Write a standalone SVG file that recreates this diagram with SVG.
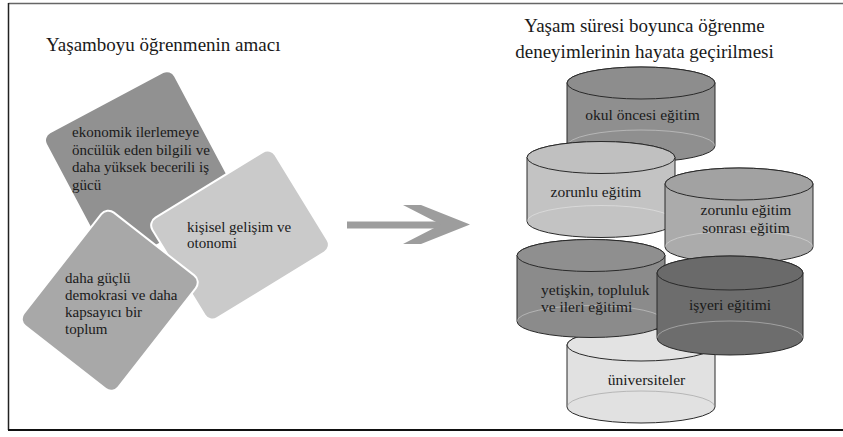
<svg xmlns="http://www.w3.org/2000/svg" width="843" height="437" viewBox="0 0 843 437">
<style>
text{font-family:"Liberation Serif","DejaVu Serif",serif;fill:#1a1a1a}
.title{font-size:19px}
.ct{font-size:15px}
.yt{font-size:15.5px}
.card{stroke:#fff;stroke-width:2}
.body{stroke:#2a2a2a;stroke-width:1}
.top{stroke:#2a2a2a;stroke-width:1}
.back{fill:none;stroke:#fff;stroke-opacity:.35;stroke-width:1}
</style>
<rect width="843" height="437" fill="#fff"/>
<g id="frame" fill="none">
<path d="M8.5,3.5 H843" stroke="#666" stroke-width="1.5"/>
<path d="M8.5,3 V430" stroke="#222" stroke-width="1.5"/>
<path d="M8,430 H843" stroke="#111" stroke-width="2"/>
</g>
<text class="title" x="46" y="51">Yaşamboyu öğrenmenin amacı</text>
<text class="title" text-anchor="middle"><tspan x="644.5" y="32">Yaşam süresi boyunca öğrenme</tspan><tspan x="644.5" y="58">deneyimlerinin hayata geçirilmesi</tspan></text>

<g id="card-ekonomik">
<rect class="card" x="68.5" y="93.5" width="146" height="150" rx="9" fill="#919191" transform="rotate(-28 141.5 168.5)"/>
<text class="ct" x="72"><tspan x="72" y="137">ekonomik ilerlemeye</tspan><tspan x="72" y="154.7">öncülük eden bilgili ve</tspan><tspan x="72" y="172.4">daha yüksek becerili iş</tspan><tspan x="72" y="190">gücü</tspan></text>
</g>
<g id="card-kisisel">
<rect class="card" x="168" y="176" width="144" height="118" rx="9" fill="#cacaca" transform="rotate(-31.5 240 235)"/>
<text class="ct"><tspan x="187" y="231.5">kişisel gelişim ve</tspan><tspan x="187" y="248">otonomi</tspan></text>
</g>
<g id="card-demokrasi">
<rect class="card" x="49.75" y="228.75" width="120" height="144" rx="9" fill="#a8a8a8" transform="rotate(38 109.75 300.75)"/>
<text class="ct"><tspan x="65" y="283">daha güçlü</tspan><tspan x="65" y="300">demokrasi ve daha</tspan><tspan x="65" y="317">kapsayıcı bir</tspan><tspan x="65" y="333.5">toplum</tspan></text>
</g>

<g id="connectors">
<rect x="347" y="221.5" width="95" height="7" fill="#9d9d9d"/>
<path d="M403,205 L421,205 L470,224.5 L421,244 L403,244 L441,224.5 Z" fill="#9d9d9d"/>
</g>

<g id="cyl-okul">
<path class="body" fill="#8f8f8f" d="M567,83 V146 A74,16 0 0 0 715,146 V83 A74,16 0 0 0 567,83 Z"/>
<path class="back" d="M567,146 A74,16 0 0 1 715,146"/>
<ellipse class="top" cx="641" cy="83" rx="74" ry="16" fill="#8d8d8d"/>
<text class="yt" x="642.5" y="120" text-anchor="middle">okul öncesi eğitim</text>
</g>
<g id="cyl-zorunlu">
<path class="body" fill="#c3c3c3" d="M527,157.5 V221.5 A74,16 0 0 0 675,221.5 V157.5 A74,16 0 0 0 527,157.5 Z"/>
<path class="back" d="M527,221.5 A74,16 0 0 1 675,221.5"/>
<ellipse class="top" cx="601" cy="157.5" rx="74" ry="16" fill="#c0c0c0"/>
<text class="yt" x="596" y="196.7" text-anchor="middle">zorunlu eğitim</text>
</g>
<g id="cyl-sonrasi">
<path class="body" fill="#ababab" d="M665,184 V247 A74,16 0 0 0 813,247 V184 A74,16 0 0 0 665,184 Z"/>
<path class="back" d="M665,247 A74,16 0 0 1 813,247"/>
<ellipse class="top" cx="739" cy="184" rx="74" ry="16" fill="#a2a2a2"/>
<text class="yt" text-anchor="middle"><tspan x="746" y="215">zorunlu eğitim</tspan><tspan x="746" y="233">sonrası eğitim</tspan></text>
</g>
<g id="cyl-universiteler">
<path class="body" fill="#e1e1e1" d="M567,345 V407 A74,16 0 0 0 715,407 V345 A74,16 0 0 0 567,345 Z"/>
<path class="back" d="M567,407 A74,16 0 0 1 715,407" style="stroke:#999;stroke-opacity:.6"/>
<ellipse class="top" cx="641" cy="345" rx="74" ry="16" fill="#e3e3e3"/>
<text class="yt" x="646.5" y="385" text-anchor="middle">üniversiteler</text>
</g>
<g id="cyl-yetiskin">
<path class="body" fill="#8b8b8b" d="M517,255.5 V321.5 A74,16 0 0 0 665,321.5 V255.5 A74,16 0 0 0 517,255.5 Z"/>
<path class="back" d="M517,321.5 A74,16 0 0 1 665,321.5"/>
<ellipse class="top" cx="591" cy="255.5" rx="74" ry="16" fill="#8f8f8f"/>
<text class="yt"><tspan x="541" y="295">yetişkin, topluluk</tspan><tspan x="541" y="311.7">ve ileri eğitimi</tspan></text>
</g>
<g id="cyl-isyeri">
<path class="body" fill="#6d6d6d" d="M657,273 V338 A73,17 0 0 0 803,338 V273 A73,17 0 0 0 657,273 Z"/>
<path class="back" d="M657,338 A73,17 0 0 1 803,338"/>
<ellipse class="top" cx="730" cy="273" rx="73" ry="17" fill="#6a6a6a"/>
<text class="yt" x="730" y="310" text-anchor="middle">işyeri eğitimi</text>
</g>
</svg>
